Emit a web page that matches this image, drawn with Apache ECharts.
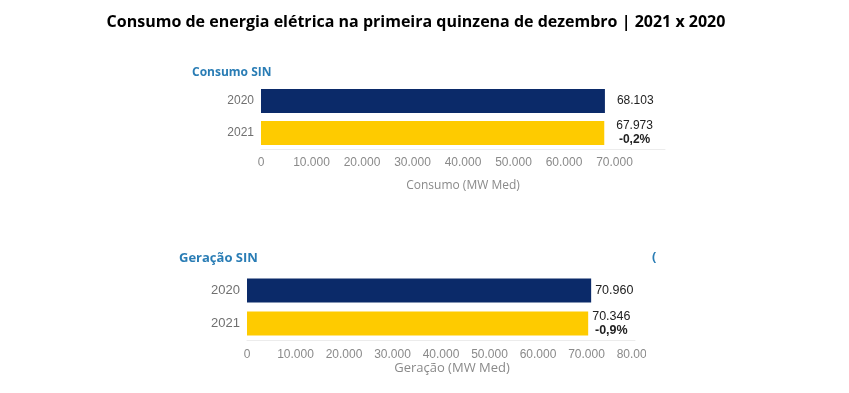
<!DOCTYPE html>
<html><head><meta charset="utf-8">
<script src="https://cdn.jsdelivr.net/npm/echarts@6/dist/echarts.min.js"></script>
<style>html,body{margin:0;padding:0;background:#fff}#c{width:849px;height:393px}</style>
</head><body><div id="c"></div>
<script>
const mainTitle = 'Consumo de energia elétrica na primeira quinzena de dezembro | 2021 x 2020';
const years = ['2020', '2021'];
const consumo = [68103, 67973];
const consumoVar = '-0,2%';
const geracao = [70960, 70346];
const geracaoVar = '-0,9%';
const colors = ['#0b2a69', '#fecb00'];

function fmt(v) {
  return String(Math.round(v)).replace(/\B(?=(\d{3})+(?!\d))/g, '.');
}
function mkData(vals, varTxt) {
  return vals.map((v, i) => ({
    value: v,
    itemStyle: { color: colors[i] },
    label: {
      formatter: i === 0 ? '{a|' + fmt(v) + '}' : '{a|' + fmt(v) + '}\n{b|' + varTxt + '}'
    }
  }));
}
const tickFont = { color: '#8a8a8a', fontSize: 12, fontFamily: 'Liberation Sans' };
const chart = echarts.init(document.getElementById('c'));
chart.setOption({
  backgroundColor: '#fff',
  animation: false,
  title: [
    { text: mainTitle, left: 411, textAlign: 'center', top: 9,
      textStyle: { fontFamily: 'Open Sans', fontWeight: 'bold', fontSize: 16, color: '#000' } },
    { text: 'Consumo SIN', left: 187, top: 62,
      textStyle: { fontFamily: 'Open Sans', fontWeight: 'bold', fontSize: 12, color: '#2a7db5' } },
    { text: 'Geração SIN', left: 174, top: 247,
      textStyle: { fontFamily: 'Open Sans', fontWeight: 'bold', fontSize: 13, color: '#2a7db5' } },
    { text: '(', left: 647, top: 246,
      textStyle: { fontFamily: 'Open Sans', fontWeight: 'bold', fontSize: 13, color: '#2a7db5' } }
  ],
  grid: [
    { left: 261, top: 85, width: 404, height: 64 },
    { left: 247, top: 274, width: 388, height: 66 }
  ],
  xAxis: [
    { gridIndex: 0, type: 'value', min: 0, max: 80000, interval: 10000,
      name: 'Consumo (MW Med)', nameLocation: 'middle', nameGap: 31,
      nameTextStyle: { color: '#8a8a8a', fontSize: 12, fontFamily: 'Open Sans' },
      axisLine: { show: true, lineStyle: { color: '#ececec' } }, axisTick: { show: false },
      splitLine: { show: false },
      axisLabel: Object.assign({ margin: 8, formatter: v => v === 80000 ? '' : fmt(v) }, tickFont) },
    { gridIndex: 1, type: 'value', min: 0, max: 80000, interval: 10000,
      name: 'Geração (MW Med)', nameLocation: 'middle', nameGap: 19,
      nameTextStyle: { color: '#8a8a8a', fontSize: 13, fontFamily: 'Open Sans', padding: [0, 0, 0, 22] },
      axisLine: { show: true, lineStyle: { color: '#ececec' } }, axisTick: { show: false },
      splitLine: { show: false },
      axisLabel: Object.assign({ margin: 9, formatter: v => fmt(v) }, tickFont) }
  ],
  yAxis: [
    { gridIndex: 0, type: 'category', data: years, inverse: true,
      axisLine: { show: false }, axisTick: { show: false },
      axisLabel: { color: '#707070', fontSize: 12, margin: 7, fontFamily: 'Liberation Sans' } },
    { gridIndex: 1, type: 'category', data: years, inverse: true,
      axisLine: { show: false }, axisTick: { show: false },
      axisLabel: { color: '#707070', fontSize: 13, margin: 7, fontFamily: 'Liberation Sans' } }
  ],
  series: [
    { type: 'bar', xAxisIndex: 0, yAxisIndex: 0, barWidth: 24, data: mkData(consumo, consumoVar),
      label: { show: true, position: 'right', distance: 12,
        rich: { a: { fontSize: 12, color: '#222', align: 'center', fontFamily: 'Liberation Sans', lineHeight: 14 },
                b: { fontSize: 12, color: '#222', fontWeight: 'bold', align: 'center', fontFamily: 'Liberation Sans', lineHeight: 14 } } } },
    { type: 'bar', xAxisIndex: 1, yAxisIndex: 1, barWidth: 24, data: mkData(geracao, geracaoVar),
      label: { show: true, position: 'right', distance: 4,
        rich: { a: { fontSize: 12.5, color: '#222', align: 'center', fontFamily: 'Liberation Sans', lineHeight: 14 },
                b: { fontSize: 12.5, color: '#222', fontWeight: 'bold', align: 'center', fontFamily: 'Liberation Sans', lineHeight: 14 } } } }
  ],
  graphic: [
    { type: 'rect', left: 646, top: 345, shape: { width: 30, height: 22 }, style: { fill: '#fff' }, z: 100 }
  ]
});
</script></body></html>
